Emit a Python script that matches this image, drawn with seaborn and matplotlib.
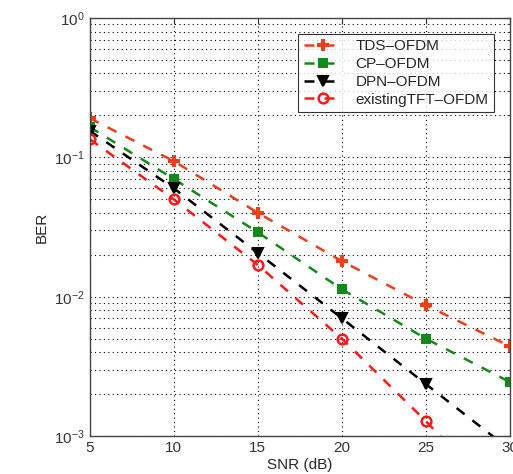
import matplotlib
matplotlib.use("Agg")
import matplotlib.pyplot as plt
import seaborn as sns
import pandas as pd
from matplotlib.ticker import LogLocator, NullFormatter

snr = [5, 10, 15, 20, 25, 30]
tds = [0.191, 0.094, 0.040, 0.018, 0.0087, 0.0044]
cp = [0.165, 0.070, 0.029, 0.0113, 0.0050, 0.00244]
dpn = [0.155, 0.060, 0.0206, 0.0070, 0.00236, 0.0008]
existing = [0.135, 0.050, 0.0169, 0.0050, 0.00128, 0.0003]
names = ["TDS\u2013OFDM", "CP\u2013OFDM", "DPN\u2013OFDM", "existingTFT\u2013OFDM"]

sns.set_style("white")
plt.rcParams['font.family'] = ['Liberation Sans', 'DejaVu Sans']

fig = plt.figure(figsize=(5.13, 4.74), dpi=100)
ax = fig.add_axes([0.175, 0.080, 0.819, 0.882])

styles = [
    dict(color="#e8401c", marker="+", ms=9, mfc="#e8401c", mec="#e8401c", mew=3),
    dict(color="#14891a", marker="s", ms=6, mfc="#14891a", mec="#14891a", mew=1.5),
    dict(color="black", marker="v", ms=7, mfc="black", mec="black", mew=1.5),
    dict(color="#ff1a1a", marker="o", ms=7, mfc="none", mec="#ff1a1a", mew=1.8),
]
series = [tds, cp, dpn, existing]
for name, vals, st in zip(names, series, styles):
    df = pd.DataFrame({"SNR": snr, "BER": vals})
    sns.lineplot(data=df, x="SNR", y="BER", ax=ax, label=name,
                 color=st["color"], linestyle=(0, (4, 4)), linewidth=1.8,
                 marker=st["marker"], markersize=st["ms"],
                 markerfacecolor=st["mfc"], markeredgecolor=st["mec"],
                 markeredgewidth=st["mew"])

ax.set_yscale("log")
ax.set_xlim(5, 30)
ax.set_ylim(1e-3, 1)
ax.set_xticks(snr)
ax.yaxis.set_minor_locator(LogLocator(base=10, subs=range(2, 10)))
ax.yaxis.set_minor_formatter(NullFormatter())
ax.grid(True, which="major", linestyle=(0, (1, 3)), color="black", linewidth=0.8)
ax.grid(True, which="minor", axis="y", linestyle=(0, (1, 3)), color="black", linewidth=0.8)
for s in ax.spines.values():
    s.set_color("#444444")
    s.set_linewidth(1.0)
ax.tick_params(axis="both", which="both", direction="in", labelsize=11, colors="#333333",
               top=True, right=True, length=4)
ax.tick_params(axis="y", which="minor", length=2)
ax.set_xlabel("SNR (dB)", fontsize=11, labelpad=2)
ax.set_ylabel("BER", fontsize=11)

leg = ax.legend(loc="upper right", fontsize=11, frameon=True, fancybox=False,
                edgecolor="black", handlelength=2.6, borderpad=0.35, labelspacing=0.25,
                bbox_to_anchor=(0.98, 0.98))
leg.get_frame().set_linewidth(0.8)

fig.savefig("out.png", dpi=100)
